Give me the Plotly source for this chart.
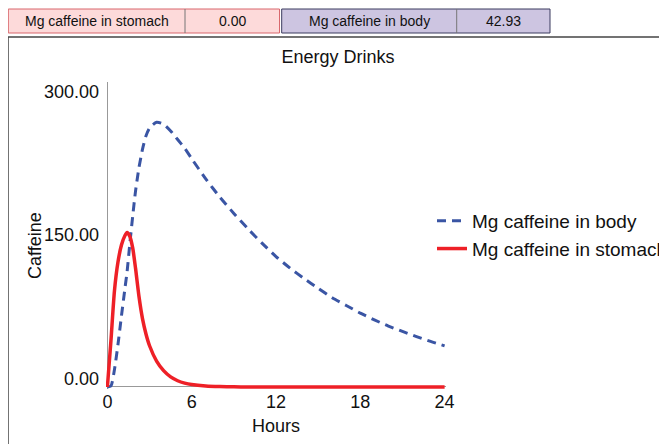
import plotly.graph_objects as go

# hours after drinking
hours = [0, 0.25, 0.5, 0.75, 1.0, 1.25, 1.4, 1.6, 1.8, 2.0, 2.25, 2.5, 2.75, 3.0,
         3.5, 4, 4.5, 5, 5.5, 6, 7, 8, 9, 10, 11, 12, 13, 14, 15, 16, 17, 18,
         19, 20, 21, 22, 23, 24]

# mg caffeine still in the stomach
stomach = [0, 48, 100, 130, 148, 158, 161, 157, 145, 124, 94, 71, 55, 43,
           27, 17, 10.5, 6.5, 4, 2.5, 1, 0.4, 0.15, 0.05, 0, 0, 0, 0, 0, 0, 0, 0,
           0, 0, 0, 0, 0, 0]

# mg caffeine in the body
body = [0, 1, 18, 44, 74, 103, 120, 150, 178, 204, 229, 248, 262, 270,
        276, 274, 267, 258, 249, 238, 217, 198, 181, 165, 150, 136, 124, 113,
        103, 93, 85, 77, 70, 63.5, 58, 52.5, 47.5, 42.93]

y_ticks = [0, 150, 300]
y_tick_text = ["0.00", "150.00", "300.00"]
x_ticks = [0, 6, 12, 18, 24]

# the page body has an 8px margin, so the figure is laid out 8px up/left
OFF = 8
W, H = 667 - OFF, 444 - OFF
ML, MT = 106 - OFF, 82 - OFF
MB = H - (389 - OFF)
MR = W - (446 - OFF)
PW, PH = W - ML - MR, H - MT - MB
FONT = "Liberation Sans, Arial, sans-serif"


# screen pixel -> paper coordinates
def px(x):
    return (x - OFF - ML) / PW


def py(y):
    return (H - MB - (y - OFF)) / PH


fig = go.Figure()
fig.add_trace(go.Scatter(x=hours, y=body, name="Mg caffeine in body", mode="lines",
                         line=dict(color="#3a55a4", width=3, dash="9px,6px", shape="spline",
                                   smoothing=0.6)))
fig.add_trace(go.Scatter(x=hours, y=stomach, name="Mg caffeine in stomach", mode="lines",
                         line=dict(color="#ee2027", width=3.5, shape="spline", smoothing=0.6)))

shapes = []
annots = []
# value boxes at the top
boxes = [
    (8.3, 185, 279.5, "#fddada", "#d9676c", "Mg caffeine in stomach", f"{stomach[-1]:.2f}"),
    (281.7, 456.7, 550, "#cdc5e1", "#3b3b5e", "Mg caffeine in body", f"{body[-1]:.2f}"),
]
for x0, xd, x1, fill, edge, label, val in boxes:
    shapes.append(dict(type="rect", xref="paper", yref="paper", x0=px(x0), x1=px(x1),
                       y0=py(33), y1=py(9), fillcolor=fill, line=dict(color=edge, width=1)))
    shapes.append(dict(type="line", xref="paper", yref="paper", x0=px(xd), x1=px(xd),
                       y0=py(33), y1=py(9), line=dict(color="#777777", width=1)))
    annots.append(dict(xref="paper", yref="paper", x=px((x0 + xd) / 2), y=py(21), text=label,
                       showarrow=False, font=dict(size=14, color="#111"),
                       xanchor="center", yanchor="middle"))
    annots.append(dict(xref="paper", yref="paper", x=px((xd + x1) / 2), y=py(21), text=val,
                       showarrow=False, font=dict(size=14, color="#111"),
                       xanchor="center", yanchor="middle"))

# y axis title
annots.append(dict(xref="paper", yref="paper", x=px(35), y=py(246), text="Caffeine",
                   textangle=-90, showarrow=False, font=dict(size=18, color="#111"),
                   xanchor="center", yanchor="middle"))

# frame around the chart
shapes.append(dict(type="line", xref="paper", yref="paper", x0=px(8), x1=px(680),
                   y0=py(37), y1=py(37), line=dict(color="#444", width=1.5)))
shapes.append(dict(type="line", xref="paper", yref="paper", x0=px(8), x1=px(8),
                   y0=py(37), y1=py(460), line=dict(color="#444", width=1.5)))

fig.update_layout(
    width=W, height=H,
    margin=dict(l=ML, r=MR, t=MT, b=MB, autoexpand=False),
    paper_bgcolor="white", plot_bgcolor="white",
    font=dict(family=FONT, size=18, color="#111"),
    title=dict(text="Energy Drinks", xref="container", yref="container",
               x=(338 - OFF) / W, y=1 - (57 - OFF) / H, xanchor="center",
               yanchor="middle", font=dict(size=18)),
    xaxis=dict(range=[-0.1, 24.1], tickvals=x_ticks, showgrid=False, showline=False,
               zeroline=True, zerolinecolor="#999", zerolinewidth=1, ticks="",
               automargin=False, title=dict(text="Hours", standoff=8, font=dict(size=18)),
               tickfont=dict(size=18)),
    yaxis=dict(range=[-2.1, 318], tickvals=y_ticks, ticktext=y_tick_text, showgrid=False,
               showline=False, zeroline=True, zerolinecolor="#999", zerolinewidth=1,
               ticks="", ticklabelshift=-8, ticklabelstandoff=6, automargin=False,
               tickfont=dict(size=18)),
    legend=dict(x=px(432), y=py(202), xanchor="left", yanchor="top",
                font=dict(size=19), bgcolor="rgba(0,0,0,0)", tracegroupgap=0),
    shapes=shapes,
    annotations=annots,
)

fig.write_html("out.html")
